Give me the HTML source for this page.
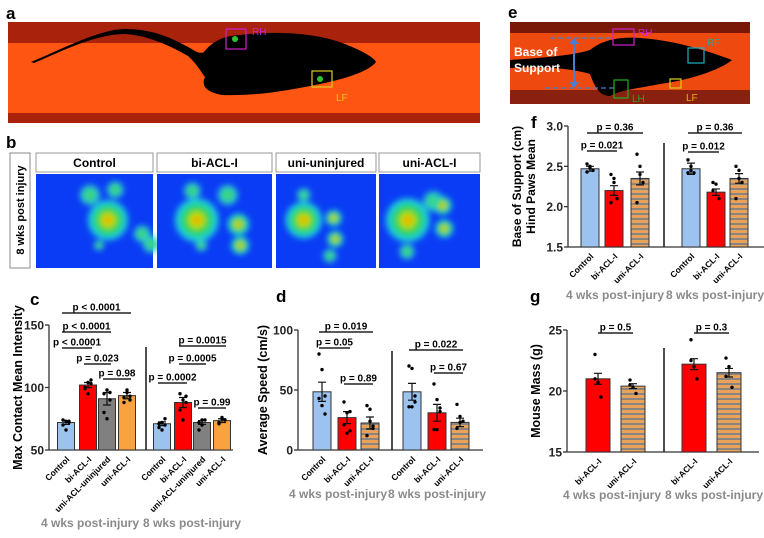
<!DOCTYPE html>
<html><head><meta charset="utf-8"><style>
body{margin:0;background:#fff}
svg{display:block;font-family:"Liberation Sans",Arial,sans-serif}
</style></head><body>
<svg id="fig" width="764" height="538" viewBox="0 0 764 538">
<defs>
<pattern id="hatch" width="6" height="5" patternUnits="userSpaceOnUse"><rect width="6" height="5" fill="#e8a25a"/><rect y="3" width="6" height="2" fill="#8a8580"/></pattern>
<filter id="blur" x="-50%" y="-50%" width="200%" height="200%"><feGaussianBlur stdDeviation="3"/></filter>
<radialGradient id="blob"><stop offset="0" stop-color="#ff8c00"/><stop offset="0.25" stop-color="#c8e000"/><stop offset="0.5" stop-color="#20d050"/><stop offset="0.8" stop-color="#20d8e0"/><stop offset="1" stop-color="#20d8e0" stop-opacity="0"/></radialGradient>
<radialGradient id="blob2"><stop offset="0" stop-color="#40d040"/><stop offset="0.6" stop-color="#30d8c0"/><stop offset="1" stop-color="#30d8e0" stop-opacity="0"/></radialGradient>
</defs>

<!-- panel a -->
<g>
<text x="6" y="19" font-size="17" font-weight="bold">a</text>
<rect x="8" y="22" width="472" height="101" fill="#ff5512"/>
<rect x="8" y="22" width="472" height="21" fill="#a8220c"/>
<rect x="8" y="113" width="472" height="10" fill="#a8220c"/>
<path d="M31,62 C60,50 100,29 125,29 C155,29 175,40 190,48 C196,52 200,54 204,52 C212,42 222,36 240,35 C280,30 320,34 345,44 C365,52 374,58 376,62 C370,70 350,78 320,84 C290,90 260,96 222,95 C206,92 201,86 205,77 C200,70 195,62 188,56 C170,46 150,36 125,34 C95,34 60,52 34,63 Z" fill="#000"/>
<rect x="226" y="29" width="20" height="20" fill="none" stroke="#d020d0" stroke-width="1.2"/>
<circle cx="235" cy="39" r="3" fill="#30c030"/>
<text x="252" y="35" font-size="10" fill="#d020d0">RH</text>
<rect x="312" y="71" width="20" height="16" fill="none" stroke="#d8d020" stroke-width="1.2"/>
<circle cx="320" cy="79" r="3" fill="#30c030"/>
<text x="336" y="101" font-size="10" fill="#f0c020">LF</text>
</g>

<!-- panel b -->
<g>
<text x="6" y="148" font-size="17" font-weight="bold">b</text>
<rect x="10" y="153" width="20" height="115" fill="#fff" stroke="#888"/>
<text transform="translate(24,210) rotate(-90)" text-anchor="middle" font-size="11" font-weight="bold">8 wks post injury</text>
<g id="heatmaps"></g>
</g>

<!-- panel e -->
<g>
<text x="508" y="18" font-size="17" font-weight="bold">e</text>
<rect x="510" y="22" width="240" height="82" fill="#ee4a10"/>
<rect x="510" y="22" width="240" height="11" fill="#7a1808"/>
<rect x="510" y="90" width="240" height="14" fill="#8a2010"/>
<path d="M510,60 C540,58 570,56 590,50 C600,42 615,36 640,38 C670,40 700,48 732,60 C720,70 690,80 660,84 C640,88 620,90 610,96 C600,96 595,88 590,74 C570,68 540,66 510,68 Z" fill="#000"/>
<line x1="550" y1="38" x2="610" y2="38" stroke="#4a7ed0" stroke-dasharray="5,3" stroke-width="1.3"/>
<line x1="545" y1="88" x2="615" y2="88" stroke="#4a7ed0" stroke-dasharray="5,3" stroke-width="1.3"/>
<line x1="574" y1="41" x2="574" y2="85" stroke="#4a7ed0" stroke-width="2"/>
<path d="M569,44 L574,38 L579,44 Z M569,82 L574,88 L579,82 Z" fill="#4a7ed0"/>
<text x="514" y="56" font-size="12" font-weight="bold" fill="#fff">Base of</text>
<text x="514" y="72" font-size="12" font-weight="bold" fill="#fff">Support</text>
<rect x="613" y="29" width="21" height="16" fill="none" stroke="#d020d0" stroke-width="1.2"/>
<text x="638" y="36" font-size="10" fill="#d020d0">RH</text>
<rect x="688" y="48" width="16" height="15" fill="none" stroke="#20b0c0" stroke-width="1.2"/>
<text x="707" y="46" font-size="10" fill="#30a0a0">RF</text>
<rect x="614" y="80" width="14" height="18" fill="none" stroke="#20b020" stroke-width="1.2"/>
<text x="632" y="102" font-size="10" fill="#30a030">LH</text>
<rect x="670" y="79" width="11" height="9" fill="none" stroke="#d8d020" stroke-width="1.2"/>
<text x="686" y="101" font-size="10" fill="#e0b020">LF</text>
</g>

<g id="charts"></g>
</svg>
<script>
const NS="http://www.w3.org/2000/svg";
const svg=document.getElementById('fig');
function mk(tag,attrs,parent,txt){const e=document.createElementNS(NS,tag);for(const k in attrs)e.setAttribute(k,attrs[k]);if(txt!==undefined)e.textContent=txt;(parent||svg).appendChild(e);return e;}

// ---------- panel b heatmaps ----------
const hmTitles=["Control","bi-ACL-I","uni-uninjured","uni-ACL-I"];
const hmX=[36,157,276,379];
const hmW=[117,115,100,101];
const hmBlobs=[
 [[80,84,22,1],[60,60,12,2],[88,55,10,2],[118,97,10,2],[128,107,10,2],[70,108,6,2]],
 [[45,84,24,1],[40,56,10,2],[80,60,12,2],[92,88,12,1],[94,108,10,1],[50,108,7,2]],
 [[36,84,20,1],[75,82,9,1],[77,102,9,1],[70,118,8,2],[36,60,8,2]],
 [[37,84,24,1],[70,66,12,2],[82,70,10,1],[84,92,10,1],[36,114,9,2]]
];
const hg=document.getElementById('heatmaps');
hmTitles.forEach((t,i)=>{
  const g=mk('g',{},hg);
  
  
  const hdr=mk('rect',{x:hmX[i],y:153,width:hmW[i],height:19,fill:'#fff',stroke:'#999'},g);
  
  
  const ht=mk('text',{x:hmX[i]+hmW[i]/2,y:167,'text-anchor':'middle','font-size':12,'font-weight':'bold'},g,t);
  
  
  mk('rect',{x:hmX[i],y:174,width:hmW[i],height:94,fill:'#0a3cf5'},g);
  const bg=mk('g',{filter:'url(#blur)'},g);
  hmBlobs[i].forEach(b=>{mk('circle',{cx:hmX[i]+b[0]*hmW[i]/130,cy:174+(b[1]-40)*1.05,r:b[2],fill:b[3]===1?'url(#blob)':'url(#blob2)'},bg);});
});

// ---------- chart data ----------
// panel c
const cCats=["Control","bi-ACL-I","uni-ACL-uninjured","uni-ACL-I","Control","bi-ACL-I","uni-ACL-uninjured","uni-ACL-I"];
const cMeans=[72,102,91,93.5,71,88,72,73.5];
const cErr=[1.5,2,5,2.5,1.5,4,1.5,1.5];
const cPoints=[[70,73,72,74,66,73],[100,104,106,99,95,103],[95,98,90,80,75,96],[92,98,90,88,96,93],[68,72,75,71,66,70],[95,90,88,82,74,93],[72,70,74,66,74],[72,75,74,71,76]];
const cTicks=[50,100,150];
const cP=[["p < 0.0001",0,3,0],["p < 0.0001",0,2,1],["p < 0.0001",0,1,2],["p = 0.023",1,2,3],["p = 0.98",2,3,4],["p = 0.0015",5,7,0],["p = 0.0005",5,6,1],["p = 0.0002",4,5,2],["p = 0.99",6,7,3]];
// panel d
const dCats=["Control","bi-ACL-I","uni-ACL-I","Control","bi-ACL-I","uni-ACL-I"];
const dMeans=[48.5,27,22.5,48.5,31,23];
const dErr=[8,5,5,7,7,3.5];
const dPoints=[[80,67,45,43,37,30],[40,31,32,21,14,16],[37,34,18,12,24,20],[70,68,45,36,36,40],[55,42,32,17,17,35],[38,28,24,18,23]];
const dTicks=[0,50,100];
const dP=[["p = 0.019",0,2,0],["p = 0.05",0,1,1],["p = 0.89",1,2,2],["p = 0.022",3,5,0],["p = 0.67",4,5,1]];
// panel f
const fCats=["Control","bi-ACL-I","uni-ACL-I","Control","bi-ACL-I","uni-ACL-I"];
const fMeans=[2.47,2.2,2.35,2.47,2.18,2.35];
const fErr=[0.03,0.06,0.08,0.07,0.04,0.06];
const fPoints=[[2.53,2.48,2.45,2.43,2.5],[2.4,2.35,2.1,2.05,2.3],[2.65,2.5,2.3,2.05,2.4],[2.58,2.5,2.42,2.42,2.45],[2.3,2.28,2.1,2.2],[2.5,2.45,2.3,2.1,2.35]];
const fTicks=[1.5,2.0,2.5,3.0];
const fP=[["p = 0.36",0,2,0],["p = 0.021",0,1,1],["p = 0.36",3,5,0],["p = 0.012",3,4,1]];
// panel g
const gCats=["bi-ACL-I","uni-ACL-I","bi-ACL-I","uni-ACL-I"];
const gMeans=[21,20.4,22.2,21.5];
const gErr=[0.45,0.2,0.45,0.35];
const gPoints=[[23,20.7,19.5,21],[20.9,20.3,19.8,20.5],[24.2,22,21,22.5],[22.7,22,20.3,21.2]];
const gTicks=[15,20,25];
const gP=[["p = 0.5",0,1,0],["p = 0.3",2,3,0]];

const colC=['#9cc2ef','#ff0000','#808080','#f9a23e','#9cc2ef','#ff0000','#808080','#f9a23e'];
const col3=['#9cc2ef','#ff0000','url(#hatch)','#9cc2ef','#ff0000','url(#hatch)'];
const col2=['#ff0000','url(#hatch)','#ff0000','url(#hatch)'];
const charts=document.getElementById('charts');

function chart(o){
  const g=mk('g',{},charts);
  
  
  const y=v=>o.y0-(v-o.vmin)/(o.vmax-o.vmin)*(o.y0-o.y1);
  const lb=mk('text',{x:o.lx,y:o.ly,'font-size':17,'font-weight':'bold'},g,o.letter);
  
  
  const ya=mk('line',{x1:o.ax,y1:o.y1,x2:o.ax,y2:o.y0,stroke:'#333','stroke-width':1.3},g);
  
  
  const xa=mk('line',{x1:o.ax,y1:o.y0,x2:o.xend,y2:o.y0,stroke:'#333','stroke-width':1.3},g);
  
  
  mk('line',{x1:o.sep,y1:o.sepTop,x2:o.sep,y2:o.y0,stroke:'#222','stroke-width':1.6},g);
  o.ticks.forEach(t=>{
    mk('line',{x1:o.ax-4,y1:y(t),x2:o.ax,y2:y(t),stroke:'#333','stroke-width':1.3},g);
    const tl=mk('text',{x:o.ax-5,y:y(t)+4.5,'text-anchor':'end','font-size':12,'font-weight':'bold','fill':'#222'},g,o.fmt?o.fmt(t):t);
    
    
  });
  o.ytitle.forEach((s,i)=>{
    const yt=mk('text',{transform:`translate(${o.ytx+i*14},${(o.y0+o.y1)/2}) rotate(-90)`,'text-anchor':'middle','font-size':o.ytfs||12.5,'font-weight':'bold'},g,s);
    
    
  });
  o.cats.forEach((c,i)=>{
    const cx=o.xs[i], top=y(o.means[i]);
    const b=mk('rect',{x:cx-o.bw/2,y:top,width:o.bw,height:o.y0-top,fill:o.cols[i],stroke:'#333','stroke-width':1},g);
    
    
    const e1=y(o.means[i]+o.err[i]), e2=y(o.means[i]-o.err[i]);
    mk('path',{d:`M${cx},${e1}V${e2}M${cx-4},${e1}H${cx+4}M${cx-4},${e2}H${cx+4}`,stroke:'#111','stroke-width':1.2,fill:'none'},g);
    o.pts[i].forEach((p,j)=>{mk('circle',{cx:cx+((j%3)-1)*3,cy:y(p),r:1.7,fill:'#000'},g);});
    const ct=mk('text',{transform:`translate(${cx+4},${o.y0+10}) rotate(-45)`,'text-anchor':'end','font-size':8.5,'font-weight':'bold'},g,c);
    
    
  });
  o.pv.forEach(p=>{
    const ly=o.pY[p[3]+(p[1]>=o.cats.length/2?o.pOff:0)];
    const x1=o.xs[p[1]]-o.pad,x2=o.xs[p[2]]+o.pad;
    mk('line',{x1:x1,y1:ly,x2:x2,y2:ly,stroke:'#222','stroke-width':1.5},g);
    const pt=mk('text',{x:(x1+x2)/2,y:ly-2.5,'text-anchor':'middle','font-size':10,'font-weight':'bold'},g,p[0]);
    
    
  });
  o.groups.forEach(gr=>{
    const gl=mk('text',{x:gr[0],y:o.gy,'text-anchor':'middle','font-size':12,'font-weight':'bold',fill:'#8a8a8a'},g,gr[1]);
    
    
  });
}

chart({name:'panel-c',letter:'c',lx:30,ly:305,ax:49,xend:233,y0:450,y1:325,vmin:50,vmax:150,ticks:cTicks,
  ytitle:['Max Contact Mean Intensity'],ytx:22,cats:cCats,means:cMeans,err:cErr,pts:cPoints,cols:colC,
  xs:[66,88,107,127,162,183,202,222],bw:17,sep:146,sepTop:347,pv:cP,pad:4,
  pY:[313,332,348,364,379,0,0,0,0,0,346,364,383,408],pOff:10,
  groups:[[90,'4 wks post-injury'],[192,'8 wks post-injury']],gy:527});
chart({name:'panel-d',letter:'d',lx:276,ly:302,ax:298,xend:483,y0:450,y1:330,vmin:0,vmax:100,ticks:dTicks,
  ytitle:['Average Speed (cm/s)'],ytx:267,cats:dCats,means:dMeans,err:dErr,pts:dPoints,cols:col3,
  xs:[322,347,370,412,437,460],bw:18,sep:392,sepTop:351,pv:dP,pad:3,
  pY:[332,348,384,0,0,0,350,373],pOff:6,
  groups:[[338,'4 wks post-injury'],[437,'8 wks post-injury']],gy:498});
chart({name:'panel-f',letter:'f',lx:531,ly:128,ax:568,xend:764,y0:247,y1:126,vmin:1.5,vmax:3.0,ticks:fTicks,fmt:t=>t.toFixed(1),
  ytitle:['Base of Support (cm)','Hind Paws Mean'],ytx:521,ytfs:12,cats:fCats,means:fMeans,err:fErr,pts:fPoints,cols:col3,
  xs:[590,614,640,691,716,739],bw:18,sep:664,sepTop:143,pv:fP,pad:3,
  pY:[133,151,0,0,0,0,133,152],pOff:6,
  groups:[[615,'4 wks post-injury'],[715,'8 wks post-injury']],gy:299});
chart({name:'panel-g',letter:'g',lx:530,ly:302,ax:567,xend:759,y0:452,y1:330,vmin:15,vmax:25,ticks:gTicks,
  ytitle:['Mouse Mass (g)'],ytx:540,cats:gCats,means:gMeans,err:gErr,pts:gPoints,cols:col2,
  xs:[598,633,694,729],bw:24,sep:664,sepTop:348,pv:gP,pad:0,
  pY:[333,0,0,0,333],pOff:4,
  groups:[[612,'4 wks post-injury'],[714,'8 wks post-injury']],gy:499});
</script>
</body></html>
